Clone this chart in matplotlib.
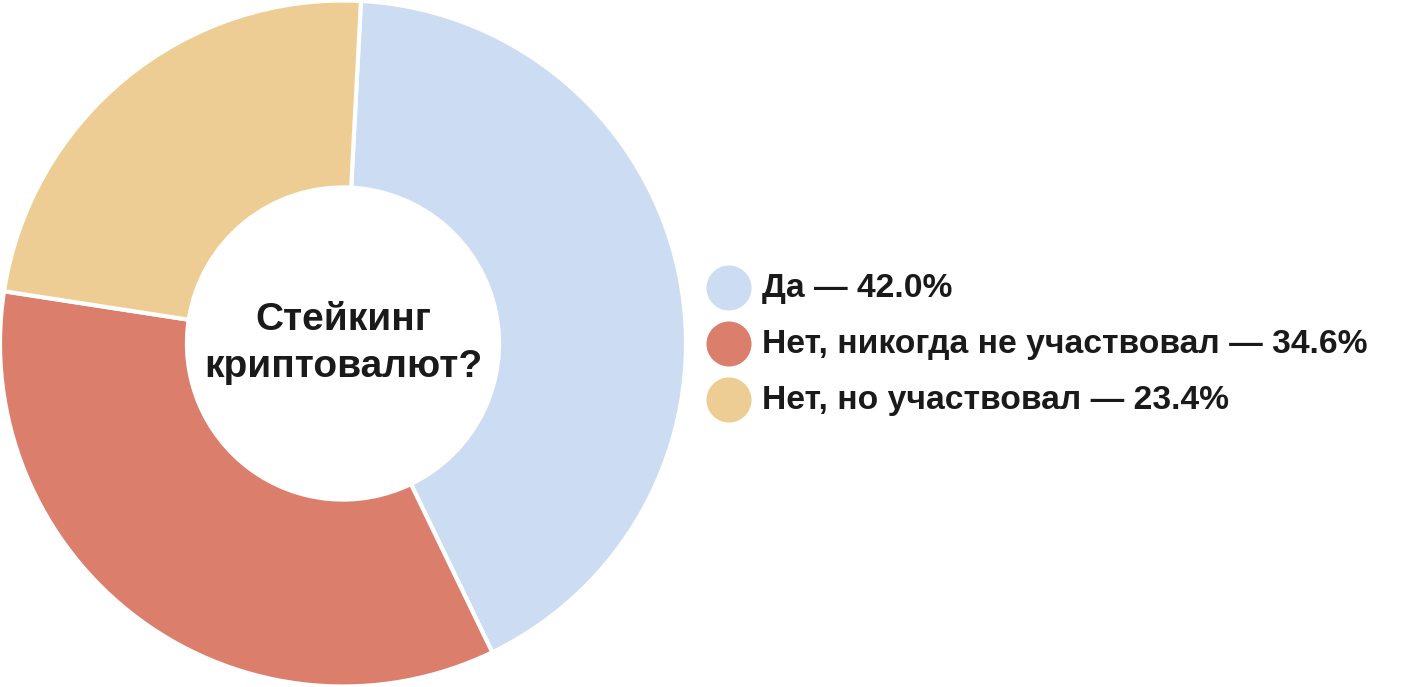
import matplotlib
matplotlib.use("Agg")
import matplotlib.pyplot as plt

categories = ["Да", "Нет, никогда не участвовал", "Нет, но участвовал"]
values = [42.0, 34.6, 23.4]
colors = ["#CCDCF3", "#DC7E6C", "#EDCD94"]
center_title = "Стейкинг\nкриптовалют?"

W, H = 1410, 687
fig = plt.figure(figsize=(W / 100, H / 100), dpi=100)
fig.patch.set_facecolor("white")

ax = fig.add_axes([0, 0, 686 / W, 1])
ax.pie(values, colors=colors, startangle=87, counterclock=False,
       radius=1.0, wedgeprops=dict(width=0.545, edgecolor="white", linewidth=3))
ax.set_aspect("equal")
ax.set_xlim(-1.0, 1.0)
ax.set_ylim(-1.0, 1.0)
ax.text(0, 0.0, center_title, ha="center", va="center", fontsize=28,
        fontweight="bold", family=["Liberation Sans", "DejaVu Sans"], color="#1a1a1a",
        linespacing=1.4)

lax = fig.add_axes([0, 0, 1, 1])
lax.set_xlim(0, W)
lax.set_ylim(H, 0)
lax.axis("off")
for i, (c, v, col) in enumerate(zip(categories, values, colors)):
    y = 288 + 56 * i
    lax.scatter([729], [y], s=1050, color=col, edgecolors="none")
    lax.text(762, y + 1, f"{c} — {v:.1f}%", ha="left", va="center",
             fontsize=24.2, fontweight="bold", family=["Liberation Sans", "DejaVu Sans"],
             color="#1a1a1a")

fig.savefig("out.png", dpi=100, facecolor="white")
